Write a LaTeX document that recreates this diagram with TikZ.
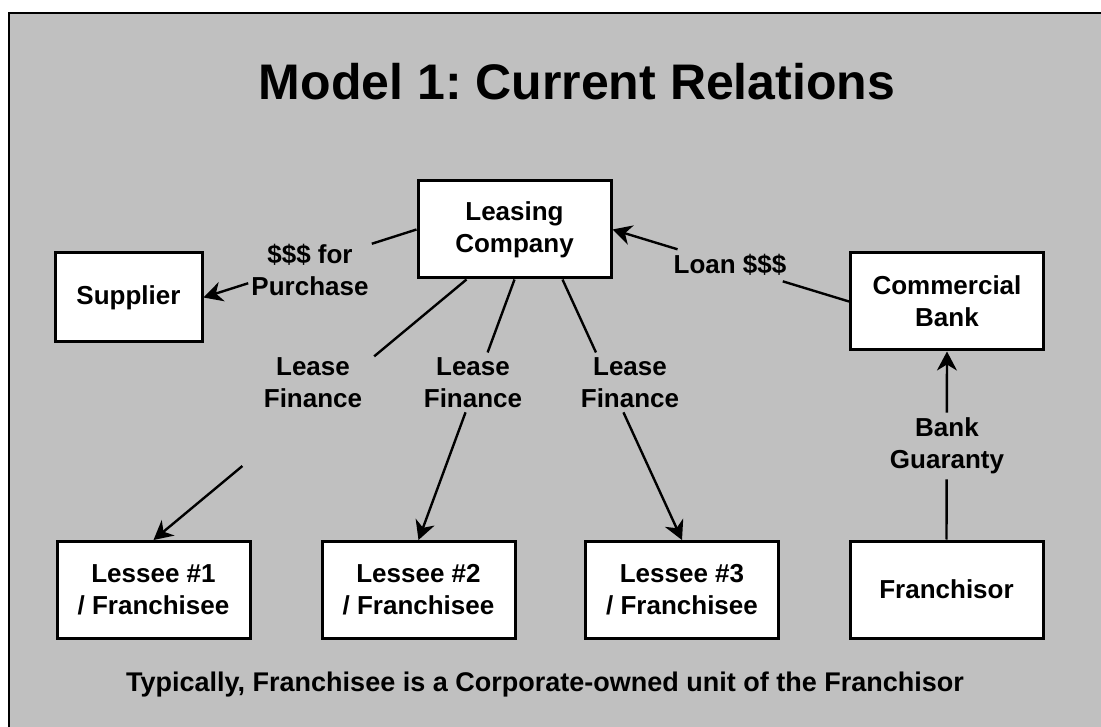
\documentclass[tikz,border=0pt]{standalone}
\usepackage{fontspec}
\setmainfont{Liberation Sans}
\usetikzlibrary{arrows.meta,calc}
\definecolor{panel}{RGB}{192,192,192}
\frenchspacing

\begin{document}
\begin{tikzpicture}[x=1pt,y=-1pt,
  box/.style={draw=black, line width=3pt, fill=white, minimum width=193pt,
    minimum height=97pt, align=center, inner sep=0pt,
    font=\fontsize{26}{32}\selectfont\bfseries},
  lbl/.style={align=center, inner sep=0pt,
    font=\fontsize{26}{32}\selectfont\bfseries},
  tip/.style={line width=2.4pt, -{Stealth[length=19pt,width=20pt,inset=6pt]}},
  plain/.style={line width=2.4pt}]

\useasboundingbox (0,0) rectangle (1101,727);
\clip (0,0) rectangle (1101,727);
% grey panel
\draw[fill=panel, line width=2.5pt] (9,13) rectangle (1120,750);

% title
\node[anchor=base, font=\fontsize{50}{60}\selectfont\bfseries] (title) at (577,100) {Model 1: Current Relations};

% boxes
\node[box] (lease) at (514.5,229.5) {Leasing\\Company};
\node[box, minimum width=147pt, minimum height=89pt] (supp) at (128.5,297.5) {Supplier};
\node[box] (bank) at (947,301.5) {Commercial\\Bank};
\node[box] (fran) at (946.5,589.5) {Franchisor};
\node[box] (l1) at (153.5,590) {Lessee \#1\\/ Franchisee};
\node[box] (l2) at (418.5,590) {Lessee \#2\\/ Franchisee};
\node[box] (l3) at (682,590) {Lessee \#3\\/ Franchisee};

% start points on the leasing company box
\coordinate (ls1) at ([xshift=-48pt]lease.south);
\coordinate (ls2) at (lease.south);
\coordinate (ls3) at ([xshift=48pt]lease.south);

% connectors, each broken where its label sits
\draw[plain] (lease.west) -- ($(lease.west)!0.21!(supp.east)$);
\draw[tip] ($(lease.west)!0.79!(supp.east)$) -- (supp.east);

\draw[plain] (bank.west) -- ($(bank.west)!0.28!(lease.east)$);
\draw[tip] ($(bank.west)!0.725!(lease.east)$) -- (lease.east);

\draw[plain] (ls1) -- ($(ls1)!0.295!(l1.north)$);
\draw[tip] ($(ls1)!0.716!(l1.north)$) -- (l1.north);

\draw[plain] (ls2) -- ($(ls2)!0.28!(l2.north)$);
\draw[tip] ($(ls2)!0.51!(l2.north)$) -- (l2.north);

\draw[plain] (ls3) -- ($(ls3)!0.28!(l3.north)$);
\draw[tip] ($(ls3)!0.51!(l3.north)$) -- (l3.north);

\draw[plain] (fran.north) -- ($(fran.north)!0.32!(bank.south)$);
\draw[tip] ($(fran.north)!0.675!(bank.south)$) -- (bank.south);

% connector labels
\node[lbl] (pur) at (310,270) {\$\$\$ for\\Purchase};
\node[lbl] (loan) at (730,265) {Loan \$\$\$};
\node[lbl] (lf1) at (313,383) {Lease\\Finance};
\node[lbl] (lf2) at (473,383) {Lease\\Finance};
\node[lbl] (lf3) at (630,383) {Lease\\Finance};
\node[lbl] (guar) at (947,446) {Bank\\Guaranty};

% note
\node[anchor=base, font=\fontsize{27}{32}\selectfont\bfseries] (note) at (545,691)
  {Typically, Franchisee is a Corporate-owned unit of the Franchisor};
\end{tikzpicture}
\end{document}
